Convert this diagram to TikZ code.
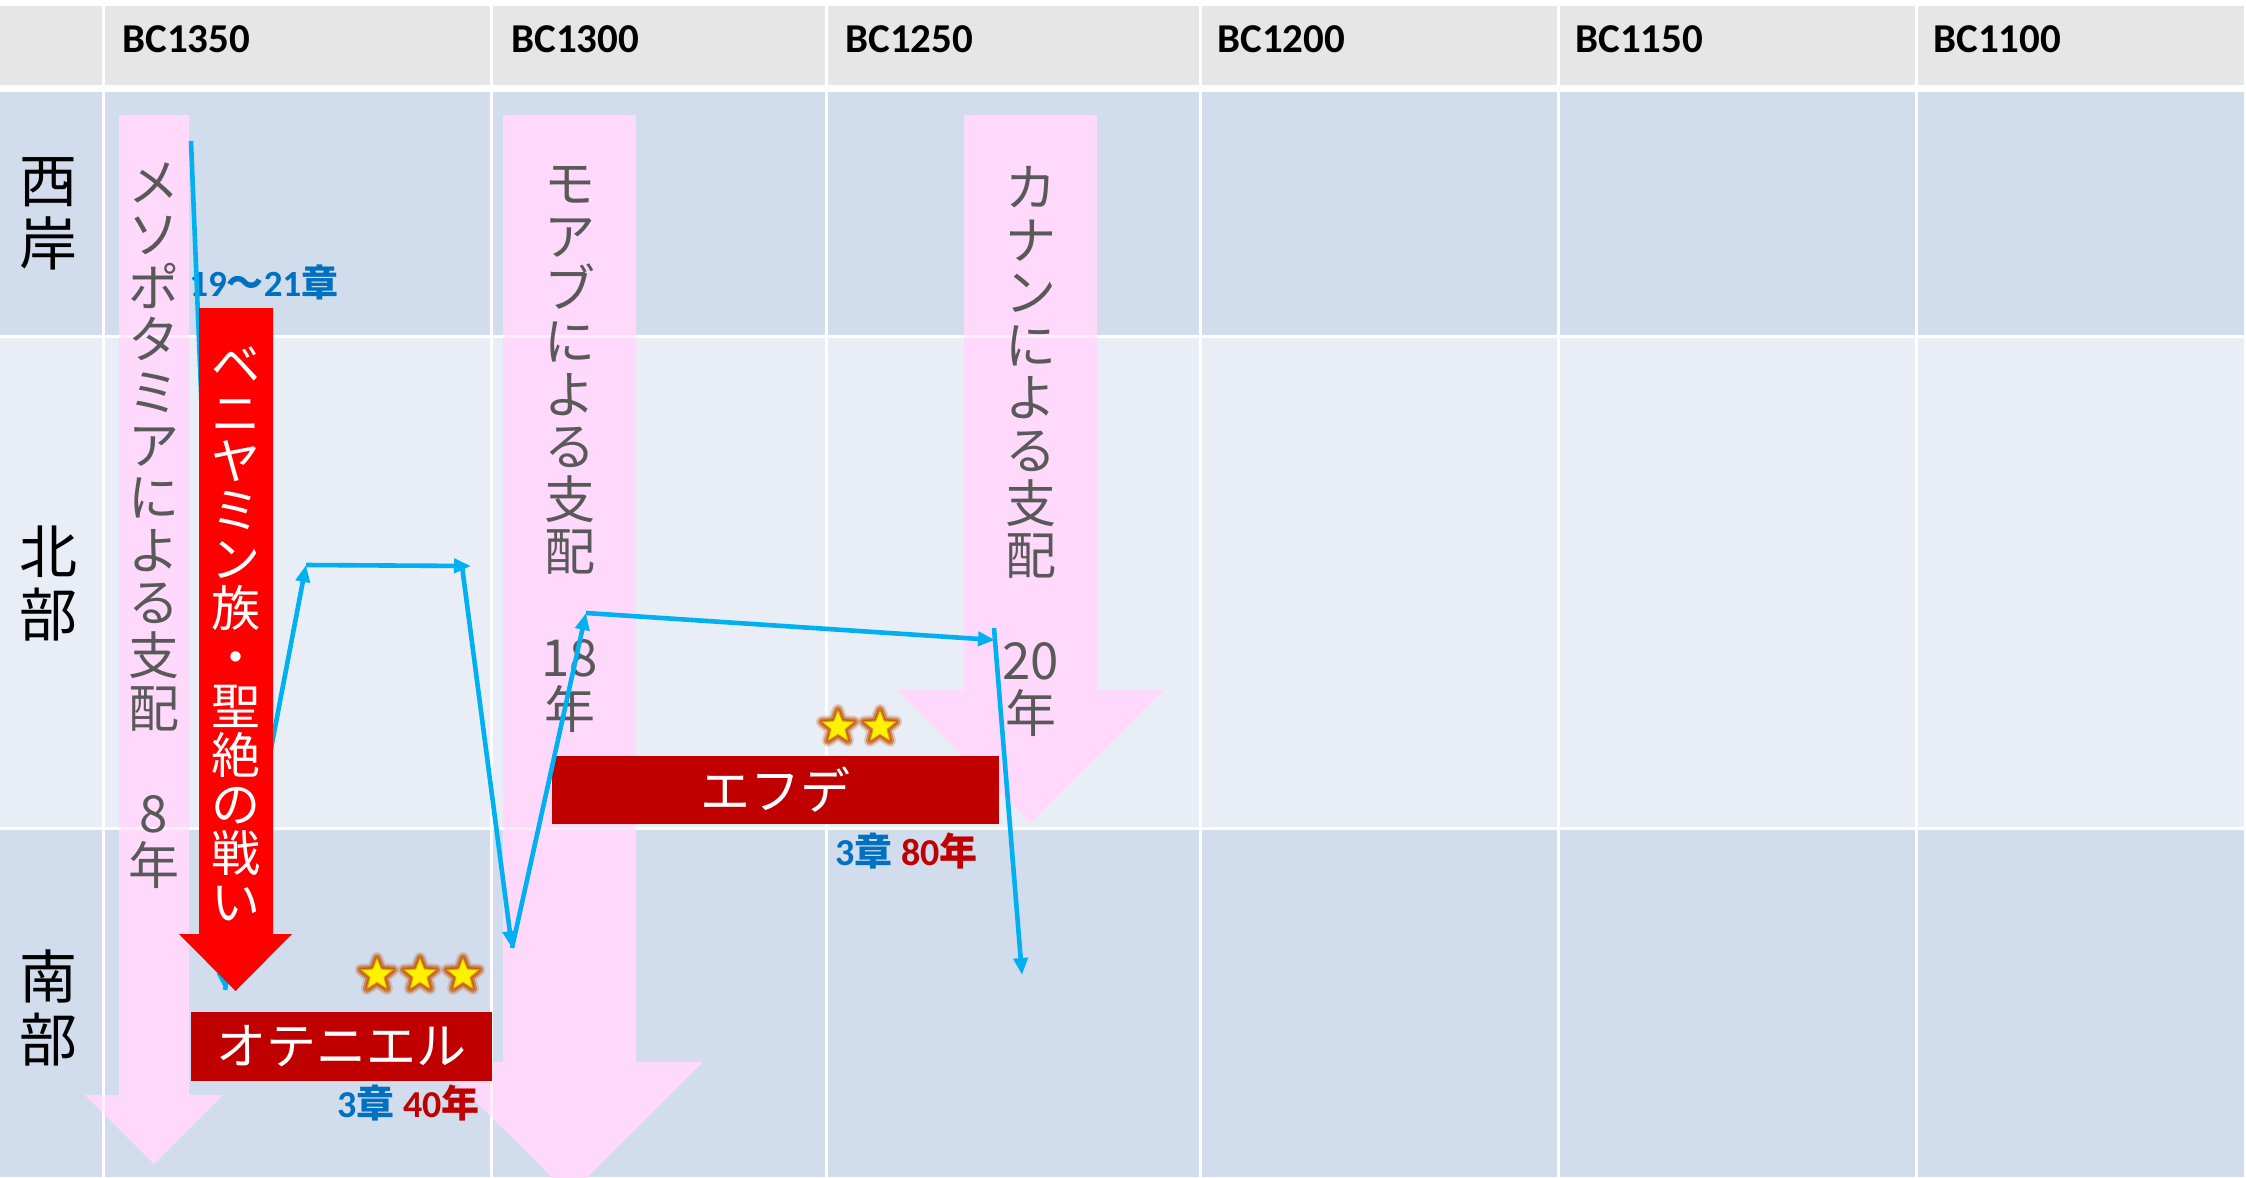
\documentclass[tikz,border=0pt]{standalone}
\usepackage{fontspec}
\setmainfont{Carlito}
\newfontfamily\cjk{Noto Sans CJK JP}
\usetikzlibrary{shapes.geometric,arrows.meta}
\definecolor{hdr}{HTML}{E6E6E6}
\definecolor{rowA}{HTML}{D1DCEC}
\definecolor{rowB}{HTML}{E9EDF5}
\definecolor{pinkA}{HTML}{FFD9FC}
\definecolor{grayT}{HTML}{595959}
\definecolor{blueL}{HTML}{00B0F0}
\definecolor{blueT}{HTML}{0070C0}
\definecolor{darkred}{HTML}{C00000}
\definecolor{glow}{HTML}{C55A11}
\tikzset{
  vtext/.style={text=grayT, font=\cjk\fontsize{25.5}{26.3}\selectfont, align=center, inner sep=0},
  vtextW/.style={text=white, font=\cjk\fontsize{24.5}{24.45}\selectfont, align=center, inner sep=0},
  rowlab/.style={text=black, font=\cjk\fontsize{29}{31.5}\selectfont, align=center, inner sep=0},
  hd/.style={font=\fontsize{20.5}{24}\selectfont\bfseries, anchor=base west, inner sep=0},
  namebox/.style={fill=darkred, text=white, font=\cjk\fontsize{25}{25}\selectfont, inner sep=0},
  lab/.style={font=\fontsize{19}{22}\selectfont\bfseries, anchor=base west, inner sep=0},
  bl/.style={draw=blueL, line width=2.3pt, -{Triangle[length=8.5pt,width=7pt]}},
  starbase/.style={star, star points=5, star point ratio=2.3, minimum size=17pt, inner sep=0, line join=round},
  gstar/.pic={
    \node[starbase, draw=glow, draw opacity=0.25, line width=6pt] (-g1) {};
    \node[starbase, draw=glow, draw opacity=0.55, line width=4pt] (-g2) {};
    \node[starbase, draw=glow, draw opacity=0.9, line width=2pt] (-g3) {};
    \node[starbase, fill=yellow, draw=glow!60!yellow, line width=0.5pt] (-c) {};
  }
}
\begin{document}
\begin{tikzpicture}[x=0.5pt,y=-0.5pt]
\useasboundingbox (0,0) rectangle (2246,1177);
\fill[white] (0,0) rectangle (2246,1177);
% table backgrounds
\fill[hdr] (0,6) rectangle (2244,85);
\fill[rowA] (0,92) rectangle (2244,335);
\fill[rowB] (0,338) rectangle (2244,827);
\fill[rowA] (0,830) rectangle (2244,1177);
\foreach \x in {103,491,826,1200,1558,1916} \fill[white] (\x-1.5,0) rectangle (\x+1.5,1177);

% header labels
\node[hd] (h1350) at (122,53) {BC1350};
\node[hd] (h1300) at (511,53) {BC1300};
\node[hd] (h1250) at (845,53) {BC1250};
\node[hd] (h1200) at (1217,53) {BC1200};
\node[hd] (h1150) at (1575,53) {BC1150};
\node[hd] (h1100) at (1933,53) {BC1100};

% row labels
\node[rowlab] (rwest) at (48,214) {西\\岸};
\node[rowlab] (rnorth) at (48,584) {北\\部};
\node[rowlab] (rsouth) at (48,1008) {南\\部};

% pink arrows
\fill[pinkA] (119,115) -- (189,115) -- (189,1095) -- (223,1095) -- (154,1164) -- (85,1095) -- (119,1095) -- cycle;
\fill[pinkA] (503,115) -- (636,115) -- (636,1062) -- (703,1062) -- (569.5,1195) -- (436,1062) -- (503,1062) -- cycle;
\fill[pinkA] (964,115) -- (1097,115) -- (1097,690) -- (1164,690) -- (1030.5,823) -- (897,690) -- (964,690) -- cycle;
% grid lines showing through
\foreach \x in {103,491} \fill[white, opacity=0.6] (\x-1.5,92) rectangle (\x+1.5,1177);
\fill[white, opacity=0.6] (0,335) rectangle (2244,338);
\fill[white, opacity=0.6] (0,827) rectangle (2244,830);

% texts in pink arrows
\node[vtext, anchor=north] (meso) at (154,162) {メ\\ソ\\ポ\\タ\\ミ\\ア\\に\\よ\\る\\支\\配\\ \\8\\年};
\node[vtext, anchor=north] (moab) at (569.5,166) {モ\\ア\\ブ\\に\\よ\\る\\支\\配\\ \\18\\年};
\node[vtext, anchor=north] (canaan) at (1030.5,166) {カ\\ナ\\ン\\に\\よ\\る\\支\\配\\ \\20\\年};

% chapter label
\node[font=\fontsize{18.5}{21}\selectfont\bfseries, text=blueT, anchor=base west, inner sep=0] (ch1921) at (189,296) {19{\cjk\bfseries 〜}21{\cjk\bfseries 章}};

% stars
\pic (s1) at (377,975) {gstar};
\pic (s2) at (420,975) {gstar};
\pic (s3) at (463,975) {gstar};
\pic (s4) at (838,727) {gstar};
\pic (s5) at (880,727) {gstar};

% blue path coordinates
\coordinate (b0) at (191,141);
\coordinate (b1) at (225,990);
\coordinate (b2) at (306,565);
\coordinate (b3) at (471,566);
\coordinate (b3s) at (462,566);
\coordinate (b4) at (512,948);
\coordinate (b5) at (586,613);
\coordinate (b6) at (995,640);
\coordinate (b6s) at (994,628);
\coordinate (b7) at (1022,975);
\draw[bl] (b0) -- (b1);
\draw[bl] (b1) -- (b2);

% red Benjamin arrow
\fill[red] (199,308) -- (273,308) -- (273,934) -- (292,934) -- (235.5,991) -- (179,934) -- (199,934) -- cycle;
\node[vtextW, anchor=north] (benj) at (235.5,346) {ベ\\ニ\\ヤ\\ミ\\ン\\族\\・\\聖\\絶\\の\\戦\\い};

% judges boxes
\node[namebox, minimum width=150.5pt, minimum height=34.5pt] (othniel) at (341.5,1046.5) {オテニエル};
\node[namebox, minimum width=223.5pt, minimum height=34pt] (ephde) at (775.5,790) {エフデ};
\node[lab] (othlab) at (337,1117) {\textcolor{blueT}{3{\cjk\bfseries 章}} \textcolor{darkred}{40{\cjk\bfseries 年}}};
\node[lab] (ephlab) at (835,865) {\textcolor{blueT}{3{\cjk\bfseries 章}} \textcolor{darkred}{80{\cjk\bfseries 年}}};

% blue path, remaining segments
\draw[bl] (b2) -- (b3);
\draw[bl] (b3s) -- (b4);
\draw[bl] (b4) -- (b5);
\draw[bl] (b5) -- (b6);
\draw[bl] (b6s) -- (b7);
\end{tikzpicture}
\end{document}
